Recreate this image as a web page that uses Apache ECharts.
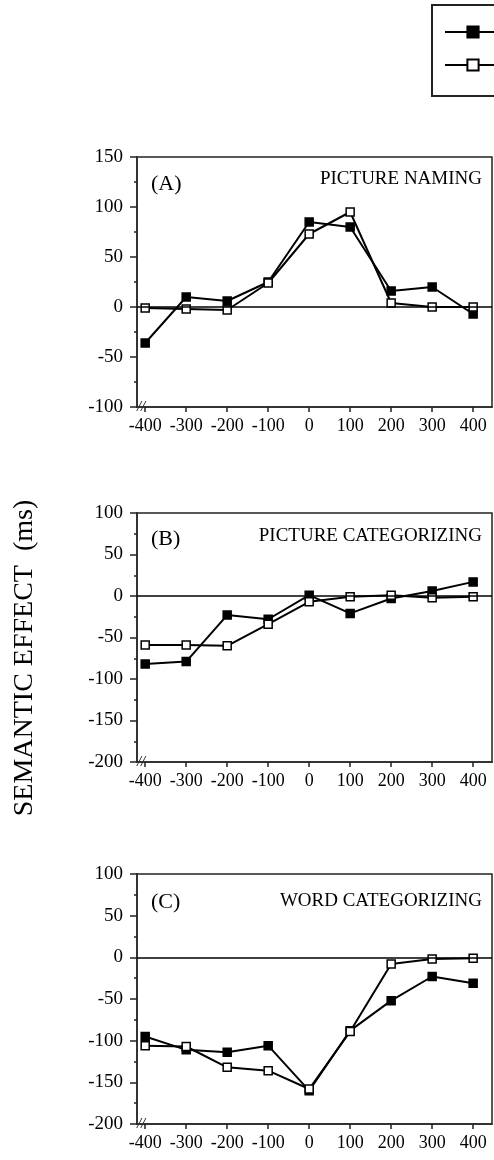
<!DOCTYPE html>
<html>
<head>
<meta charset="utf-8">
<script src="https://cdn.jsdelivr.net/npm/echarts@6/dist/echarts.min.js"></script>
<style>
  html, body { margin: 0; padding: 0; background: #fff; }
  #chart { width: 494px; height: 1160px; }
</style>
</head>
<body>
<div id="chart"></div>
<script>
// SOA in ms
const soa = [-400, -300, -200, -100, 0, 100, 200, 300, 400];
const seriesNames = ['Real', 'Simulation'];

// (A) picture naming
const namingFilled = [-36, 10, 6, 25, 85, 80, 16, 20, -7];
const namingOpen = [-1, -2, -3, 24, 73, 95, 4, 0, 0];
// (B) picture categorizing
const picCatFilled = [-82, -79, -23, -28, 1, -21, -3, 6, 17];
const picCatOpen = [-59, -59, -60, -34, -7, -1, 1, -2, -1];
// (C) word categorizing
const wordCatFilled = [-95, -111, -114, -106, -160, -88, -52, -23, -31];
const wordCatOpen = [-106, -107, -132, -136, -158, -89, -8, -2, -1];

const panelLabels = ['(A)', '(B)', '(C)'];
const panelTitles = ['PICTURE NAMING', 'PICTURE CATEGORIZING', 'WORD CATEGORIZING'];
const yRanges = [[-100, 150], [-200, 100], [-200, 100]];
const yTitle = 'SEMANTIC EFFECT  (ms)';

const panels = [
    [namingFilled, namingOpen],
    [picCatFilled, picCatOpen],
    [wordCatFilled, wordCatOpen]
];

const font = '"Liberation Serif", "DejaVu Serif", serif';
const gridTops = [157, 513, 874];
const gridHeights = [250, 249, 250];

const chart = echarts.init(document.getElementById('chart'));

const grids = gridTops.map((top, i) => ({
    left: 137, width: 355, top: top, height: gridHeights[i],
    show: true, borderColor: '#222', borderWidth: 1.5
}));

const xAxes = gridTops.map((_, i) => ({
    type: 'value', gridIndex: i, min: -420, max: 446,
    splitLine: {show: false},
    axisLine: {show: true, onZero: false, lineStyle: {color: '#333', width: 2}},
    axisTick: {show: true, inside: false, length: 5, customValues: soa, lineStyle: {color: '#222', width: 1.5}},
    axisLabel: {customValues: soa, margin: 10, fontFamily: font, fontSize: 18, color: '#000'}
}));

const yAxes = yRanges.map((r, i) => ({
    type: 'value', gridIndex: i, min: r[0], max: r[1], interval: 50,
    splitLine: {show: false},
    axisLine: {show: true, onZero: false, lineStyle: {color: '#333', width: 2}},
    axisTick: {show: true, inside: false, length: 7, lineStyle: {color: '#222', width: 1.5}},
    minorTick: {show: true, splitNumber: 2, length: 3, lineStyle: {color: '#222', width: 1.5}},
    axisLabel: {margin: 14, fontFamily: font, fontSize: 19, color: '#000'}
}));

const series = [];
panels.forEach((pair, i) => {
    pair.forEach((vals, k) => {
        const s = {
            name: seriesNames[k], type: 'line', xAxisIndex: i, yAxisIndex: i,
            data: soa.map((x, j) => [x, vals[j]]),
            symbol: 'rect', symbolSize: 8,
            lineStyle: {color: '#000', width: 2},
            itemStyle: {color: k === 0 ? '#000' : '#fff', borderColor: '#000', borderWidth: 1.5},
            z: k === 0 ? 3 : 4
        };
        if (k === 0) {
            s.markLine = {
                silent: true, symbol: 'none', label: {show: false},
                lineStyle: {color: '#000', width: 1.5, type: 'solid'},
                data: [{yAxis: 0}]
            };
        }
        series.push(s);
    });
});

const labelTops = [168, 523, 886];
const titleTops = [165, 522, 887];
const titles = [];
panelLabels.forEach((t, i) => {
    titles.push({text: t, left: 146, top: labelTops[i],
        textStyle: {fontFamily: font, fontSize: 22, fontWeight: 'normal', color: '#000'}});
    titles.push({text: panelTitles[i], right: 7, top: titleTops[i],
        textStyle: {fontFamily: font, fontSize: 19, fontWeight: 'normal', color: '#000'}});
});

chart.setOption({
    animation: false,
    title: titles,
    legend: {
        data: seriesNames, left: 432, top: 5, orient: 'vertical',
        padding: [18, 10, 22, 12], itemGap: 15, itemWidth: 56, itemHeight: 14,
        borderColor: '#222', borderWidth: 2,
        textStyle: {fontFamily: font, fontSize: 18, color: '#000'}
    },
    grid: grids,
    xAxis: xAxes,
    yAxis: yAxes,
    series: series
});

// axis break marks and the shared y title
const graphics = [{
    type: 'text', x: 25, y: 658, rotation: Math.PI / 2,
    style: {text: yTitle, font: '28px ' + font, fill: '#000', align: 'center', verticalAlign: 'middle'}
}];
yRanges.forEach((r, i) => {
    const p = chart.convertToPixel({gridIndex: i}, [-410, r[0]]);
    graphics.push({
        type: 'text', x: p[0], y: p[1],
        style: {text: '//', font: 'italic 15px ' + font, fill: '#000', align: 'center', verticalAlign: 'middle',
            backgroundColor: '#fff'}
    });
});
chart.setOption({graphic: graphics});
</script>
</body>
</html>
